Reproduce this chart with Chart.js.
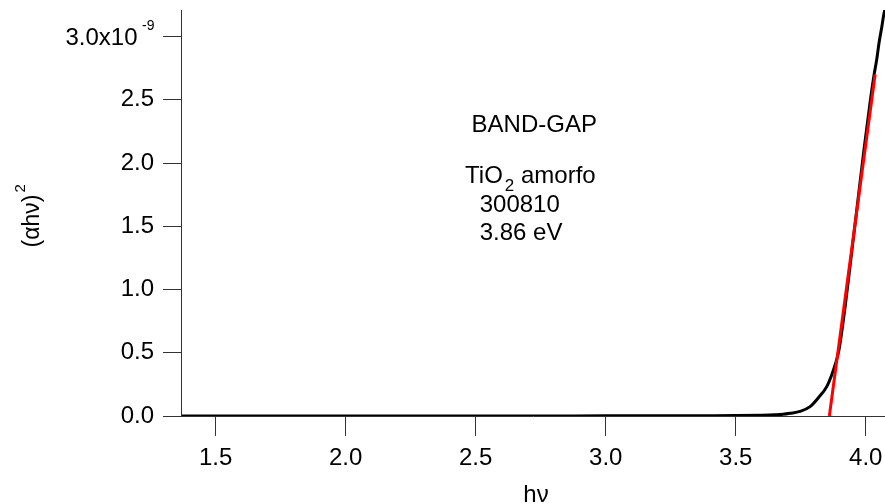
<!DOCTYPE html>
<html>
<head>
<meta charset="utf-8">
<script src="https://cdn.jsdelivr.net/npm/chart.js@4/dist/chart.umd.min.js"></script>
<style>
  html, body { margin: 0; padding: 0; background: #ffffff; }
  #wrap { width: 885px; height: 504px; position: relative; }
</style>
</head>
<body>
<div id="wrap"><canvas id="c" width="885" height="504"></canvas></div>
<script>
// Photon energy (eV) and (alpha h nu)^2 of the amorphous TiO2 film
const photonEnergy = [1.37, 1.5, 1.75, 2.0, 2.25, 2.5, 2.75, 3.0, 3.2, 3.4, 3.5, 3.6, 3.65,
  3.682, 3.709, 3.747, 3.786, 3.817, 3.850, 3.869, 3.882, 3.897, 3.921, 3.947, 3.970,
  3.993, 4.018, 4.032, 4.042, 4.051, 4.062, 4.068, 4.074, 4.08];
const absorption = [0.000e-9, 0.000e-9, 0.000e-9, 0.000e-9, 0.000e-9, 0.000e-9, 0.000e-9,
  0.001e-9, 0.001e-9, 0.002e-9, 0.003e-9, 0.006e-9, 0.009e-9,
  0.013e-9, 0.021e-9, 0.036e-9, 0.074e-9, 0.142e-9, 0.232e-9, 0.324e-9, 0.403e-9,
  0.522e-9, 0.870e-9, 1.313e-9, 1.709e-9, 2.104e-9, 2.500e-9, 2.698e-9, 2.816e-9,
  2.949e-9, 3.080e-9, 3.159e-9, 3.218e-9, 3.27e-9];

// Linear fit of the absorption edge, extrapolated to zero
const fitEnergy = [3.86, 4.036];
const fitValue = [0, 2.70e-9];

// Axis ticks
const xTicks = [1.5, 2.0, 2.5, 3.0, 3.5, 4.0];
const yTicks = [0, 0.5e-9, 1.0e-9, 1.5e-9, 2.0e-9, 2.5e-9, 3.0e-9];
const yTopTick = 3.0e-9;

// Annotation text
const titleText = 'BAND-GAP';
const sampleName = ['TiO', '2', ' amorfo'];
const sampleId = '300810';
const gapText = '3.86 eV';

const FONT = "'Liberation Sans', Arial, Helvetica, sans-serif";
const AXIS_COLOR = '#333333';

const toPoints = (xs, ys) => xs.map((x, i) => ({ x: x, y: ys[i] }));

// fixed axis box sizes, no extra room for overhanging labels
const fixBox = (size, key) => (s) => {
  s[key] = size;
  s.paddingTop = 0; s.paddingBottom = 0; s.paddingLeft = 0; s.paddingRight = 0;
};

const textPlugin = {
  id: 'bandGapText',
  afterDraw(chart) {
    const ctx = chart.ctx;
    const ys = chart.scales.y;
    const area = chart.chartArea;
    ctx.save();
    ctx.fillStyle = '#000000';
    ctx.textBaseline = 'alphabetic';

    // top y tick label with exponent
    const ty = ys.getPixelForValue(yTopTick);
    const labelRight = area.left - 18 - 9;
    ctx.font = '14px ' + FONT;
    ctx.textAlign = 'right';
    const expW = ctx.measureText('-9').width;
    ctx.fillText('-9', labelRight + 0.5, ty - 6.5);
    ctx.font = '24px ' + FONT;
    ctx.fillText('3.0x10', labelRight - expW - 4, ty + 8.3);

    // x axis title
    ctx.textAlign = 'center';
    ctx.font = '24px ' + FONT;
    ctx.fillText('h\u03BD', (area.left + area.right) / 2 + 3, 502);

    // y axis title, rotated
    ctx.save();
    ctx.translate(38.5, 247.5);
    ctx.rotate(-Math.PI / 2);
    ctx.textAlign = 'left';
    ctx.font = '23px ' + FONT;
    const main = '(\u03B1h\u03BD)';
    ctx.fillText(main, 0, 0);
    const mw = ctx.measureText(main).width;
    ctx.font = '15px ' + FONT;
    ctx.fillText('2', mw + 2, -14);
    ctx.restore();

    // annotations inside the plot
    ctx.textAlign = 'left';
    ctx.font = '24px ' + FONT;
    ctx.fillText(titleText, 471.6, 131.7);

    let x = 465.1;
    ctx.fillText(sampleName[0], x, 183.3);
    x += ctx.measureText(sampleName[0]).width + 2;
    ctx.font = '17px ' + FONT;
    ctx.fillText(sampleName[1], x, 190.7);
    x += ctx.measureText(sampleName[1]).width;
    ctx.font = '24px ' + FONT;
    ctx.fillText(sampleName[2], x, 183.3);

    ctx.fillText(sampleId, 479.7, 211.7);
    ctx.fillText(gapText, 479.7, 240);
    ctx.restore();
  }
};

new Chart(document.getElementById('c'), {
  type: 'scatter',
  data: {
    datasets: [
      {
        label: 'fit',
        data: toPoints(fitEnergy, fitValue),
        showLine: true,
        borderColor: '#ff0000',
        backgroundColor: '#ff0000',
        borderWidth: 3,
        pointRadius: 0,
        tension: 0
      },
      {
        label: '(alpha h nu)^2',
        data: toPoints(photonEnergy, absorption),
        showLine: true,
        borderColor: '#000000',
        backgroundColor: '#000000',
        borderWidth: 3,
        pointRadius: 0,
        cubicInterpolationMode: 'monotone'
      }
    ]
  },
  options: {
    responsive: false,
    animation: false,
    events: [],
    layout: { padding: { top: 10, right: 0, bottom: 0, left: 0 } },
    plugins: { legend: { display: false }, tooltip: { enabled: false } },
    scales: {
      x: {
        type: 'linear',
        min: 1.3667,
        max: 4.074,
        afterBuildTicks: (s) => { s.ticks = xTicks.map(v => ({ value: v })); },
        afterFit: fixBox(88, 'height'),
        ticks: {
          font: { family: FONT, size: 24 },
          color: '#000000',
          padding: 8,
          maxRotation: 0,
          autoSkip: false,
          callback: (v) => Number(v).toFixed(1)
        },
        grid: { display: true, drawOnChartArea: false, drawTicks: true, tickLength: 20, color: AXIS_COLOR, lineWidth: 1 },
        border: { display: true, color: AXIS_COLOR, width: 1 }
      },
      y: {
        type: 'linear',
        min: 0,
        max: 3.21e-9,
        afterBuildTicks: (s) => { s.ticks = yTicks.map(v => ({ value: v })); },
        afterFit: fixBox(181, 'width'),
        ticks: {
          font: { family: FONT, size: 24 },
          color: '#000000',
          padding: 9,
          autoSkip: false,
          callback: (v) => Math.abs(v - yTopTick) < 1e-15 ? '' : (v * 1e9).toFixed(1)
        },
        grid: { display: true, drawOnChartArea: false, drawTicks: true, tickLength: 18, color: AXIS_COLOR, lineWidth: 1 },
        border: { display: true, color: AXIS_COLOR, width: 1 }
      }
    }
  },
  plugins: [textPlugin]
});
</script>
</body>
</html>
